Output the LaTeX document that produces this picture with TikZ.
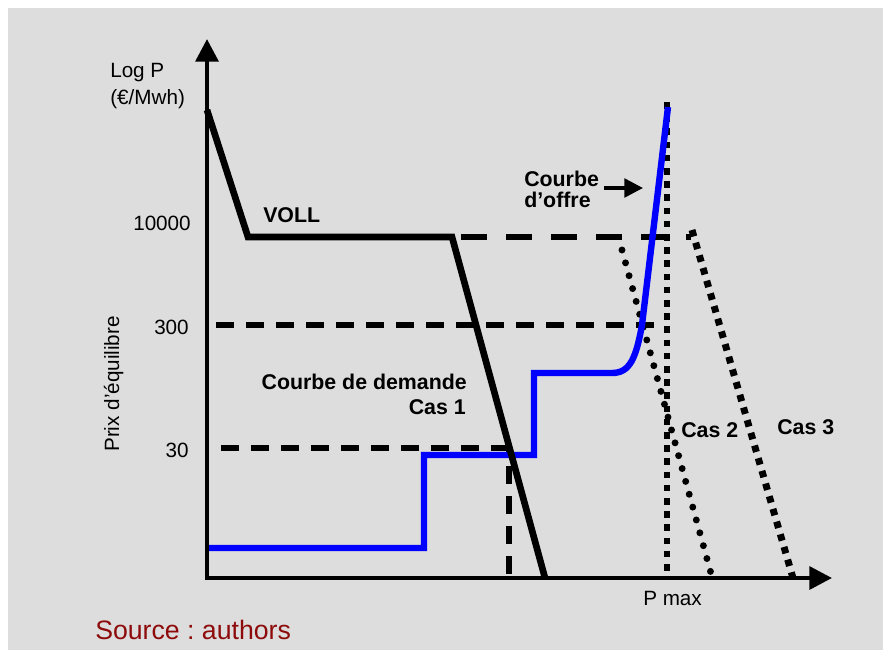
\documentclass[tikz,border=0pt]{standalone}
\usepackage{fontspec}
\setmainfont{Liberation Sans}
\usetikzlibrary{arrows.meta}
\definecolor{bggray}{HTML}{DDDDDD}
\definecolor{srcred}{HTML}{8E0B0B}
\definecolor{supblue}{HTML}{0000FF}
\frenchspacing
\begin{document}
\begin{tikzpicture}[x=0.75pt,y=-0.75pt,
  axis/.style={line width=3.3pt,-{Triangle[length=17pt,width=17pt]}},
  demand/.style={line width=5pt,line join=miter},
  supply/.style={line width=4.8pt,supblue},
  longguide/.style={line width=3.8pt,dash pattern=on 19.5pt off 14.25pt,dash phase=27pt},
  guide/.style={line width=3.8pt,dash pattern=on 13.5pt off 9pt},
  squaredots/.style={line width=5.2pt,dash pattern=on 5pt off 4.9pt},
  rounddots/.style={line width=5.2pt,line cap=round,dash pattern=on 0pt off 10pt},
  pointer/.style={line width=2.6pt,-{Triangle[length=14pt,width=14pt]},shorten <=3.75pt},
  lbl/.style={inner sep=0pt,font=\fontsize{15.5}{18.75}\selectfont},
  blbl/.style={inner sep=0pt,font=\fontsize{16}{19}\selectfont\bfseries}]
	\fill[bggray] (8,8) rectangle (883,650);
	\useasboundingbox (0,0) rectangle (883,650);
	% axes
	\coordinate (ytop) at (207,39);
	\coordinate (xend) at (832,578);
	\coordinate (ybot) at (207,580);
	\coordinate (xbeg) at (205,578);
	% demand curve
	\coordinate (dA) at (207,110);
	\coordinate (dB) at (248,237);
	\coordinate (dC) at (452,237);
	\coordinate (dD) at (545,578);
	% equilibrium guides
	\coordinate (g10000) at (691,237);
	\coordinate (g300a) at (207,325);
	\coordinate (g300b) at (655,325);
	\coordinate (g30a) at (207,448);
	\coordinate (g30b) at (509,448);
	\coordinate (g30c) at (509,578);
	% supply curve
	\coordinate (sA) at (207,548);
	\coordinate (sB) at (424,548);
	\coordinate (sC) at (424,455);
	\coordinate (sD) at (534,455);
	\coordinate (sE) at (534,373);
	\coordinate (sF) at (612,373);
	\coordinate (sG) at (642,325);
	\coordinate (sH) at (668,107);
	% capacity and other cases
	\coordinate (pmaxtop) at (667,102);
	\coordinate (pmaxbot) at (667,578);
	\coordinate (cas2a) at (622,250);
	\coordinate (cas2b) at (712,577);
	\coordinate (cas3a) at (692,230);
	\coordinate (cas3b) at (793,578);
	\coordinate (offretip) at (643,188);

	\draw[longguide] (dC) -- (g10000);
	\draw[guide,dash phase=15.75pt] (g300a) -- (g300b);
	\draw[guide,dash phase=12pt] (g30a) -- (g30b);
	\draw[guide,dash phase=9pt] (g30b) -- (g30c);
	\draw[squaredots] (pmaxtop) -- (pmaxbot);
	\draw[rounddots] (cas2a) -- (cas2b);
	\draw[squaredots] (cas3a) -- (cas3b);
	\draw[supply] (sA) -- (sB) -- (sC) -- (sD) -- (sE) -- (sF)
	    .. controls (630,373) and (636,358) .. (sG) -- (sH);
	\draw[demand] (dA) -- (dB) -- (dC) -- (dD);
	\draw[axis] (ybot) -- (ytop);
	\draw[axis] (xbeg) -- (xend);

	% labels
	\node[lbl,anchor=base west] (logp) at (110,77) {Log P};
	\node[lbl,anchor=base west] (unit) at (110,104) {(€/Mwh)};
	\node[lbl,anchor=base east] (t10000) at (191,230) {10000};
	\node[lbl,anchor=base east] (t300) at (189,334) {300};
	\node[lbl,anchor=base east] (t30) at (189,457) {30};
	\node[lbl,anchor=base west,rotate=90] (prix) at (119,452) {Prix d’équilibre};
	\node[blbl,anchor=base west] (voll) at (263,222) {VOLL};
	\node[blbl,anchor=base east] (dem) at (467,389) {Courbe de demande};
	\node[blbl,anchor=base east] (cas1) at (466,414) {Cas 1};
	\node[blbl,anchor=base west] (offre1) at (524,186) {Courbe};
	\node[blbl,anchor=base west] (offre2) at (524,207) {d’offre};
	\node[blbl,anchor=base west] (cas2) at (681,437) {Cas 2};
	\node[blbl,anchor=base west] (cas3) at (777,434) {Cas 3};
	\node[lbl,anchor=base west] (pmax) at (643,605) {P max};
	\node[inner sep=0pt,anchor=base west,text=srcred,font=\fontsize{20}{23}\selectfont] (src) at (95,639) {Source : authors};
	\draw[pointer] (offre1.east |- offretip) -- (offretip);
\end{tikzpicture}
\end{document}
